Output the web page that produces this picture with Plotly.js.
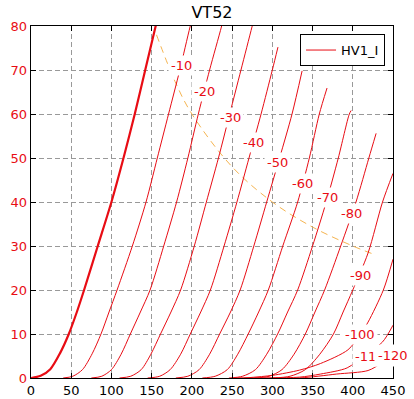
<!DOCTYPE html>
<html>
<head>
<meta charset="utf-8">
<script src="https://cdn.plot.ly/plotly-3.0.1.min.js"></script>
<style>html,body{margin:0;padding:0;background:#fff}#chart{width:414px;height:399px}</style>
</head>
<body>
<div id="chart"></div>
<script>
// Plate voltage (V) / plate current (mA), one pair per grid voltage
const gridLabels = ["0", "-10", "-20", "-30", "-40", "-50", "-60", "-70", "-80", "-90", "-100", "-110", "-120"];

const vp_0   = [0, 12, 24, 36, 47, 57, 66, 83, 100, 115, 129, 142, 155, 165];
const ip_0   = [0, 0.5, 2.0, 5.6, 10, 15, 20, 30, 40, 50, 60, 70, 80, 88];
const vp_10  = [40, 52, 64, 76, 87, 97, 107, 126, 143, 157, 171, 185, 198, 210];
const ip_10  = [0, 0.4, 1.9, 5.5, 10, 15, 20, 30, 40, 50, 60, 70, 80, 88];
const vp_20  = [75, 88, 100, 112, 123.5, 136, 148, 165, 181, 195, 208, 222, 237, 248];
const ip_20  = [0, 0.4, 1.9, 5.4, 10, 15, 20, 30, 40, 50, 60, 70, 80, 88];
const vp_30  = [110, 124, 137, 149, 161, 174, 186, 203, 218, 233, 247, 261, 275, 286];
const ip_30  = [0, 0.4, 1.9, 5.4, 10, 15, 20, 30, 40, 50, 60, 70, 80, 88];
const vp_40  = [145, 160, 173, 186, 198, 211, 223, 240, 256, 271, 286, 300, 307];
const ip_40  = [0, 0.4, 1.9, 5.4, 10, 15, 20, 30, 40, 50, 60, 70, 75.2];
const vp_50  = [180, 195, 209, 222, 234.5, 248, 260, 277, 293, 309, 324.5, 337];
const ip_50  = [0, 0.4, 1.9, 5.4, 10, 15, 20, 30, 40, 50, 60, 69.8];
const vp_60  = [213, 229, 244, 257, 270, 283, 295, 313, 331.5, 346, 358.4, 368];
const ip_60  = [0, 0.4, 1.9, 5.4, 10, 15, 20, 30, 40, 50, 60, 65.9];
const vp_70  = [246, 263, 279, 293, 306.6, 319, 331.5, 350, 367, 382, 395.7, 398];
const ip_70  = [0, 0.4, 1.9, 5.4, 10, 15, 20, 30, 40, 50, 60, 60.8];
const vp_80  = [278, 296, 312, 327, 341, 353, 365, 385, 404, 420, 429];
const ip_80  = [0, 0.4, 1.9, 5.4, 10, 15, 20, 30, 40, 50, 55.6];
const vp_90  = [300, 322, 341, 359, 376, 388, 400, 419, 437, 450];
const ip_90  = [0, 0.4, 1.9, 5.4, 10, 15, 20, 28.4, 40, 46.5];
const vp_100 = [265, 300, 334, 360, 394, 409, 419, 438, 450];
const ip_100 = [0, 0.6, 1.8, 3.3, 6.4, 9.8, 12.7, 20, 27];
const vp_110 = [250, 300, 334, 360, 393, 415, 437, 450];
const ip_110 = [0, 0.05, 0.2, 0.9, 2.3, 5.2, 8.2, 12];
const vp_120 = [250, 334, 380, 419, 435, 450];
const ip_120 = [0, 0.02, 0.9, 1.7, 3.3, 5.2];

// Plate dissipation limit (dashed)
const vp_pmax = [156, 180, 200, 250, 300, 350, 400, 425];
const ip_pmax = [78, 67, 60, 48, 40, 34.3, 30, 28.2];

// Curve label positions (V, mA)
const labelV = [186.5, 216, 247.5, 277, 307, 338, 368, 398, 410, 409, 421, 450];
const labelI = [71.1, 65.2, 59.1, 53.6, 48.9, 44.3, 41.1, 37.3, 23.4, 9.8, 5.0, 5.2];

const xTicks = [0, 50, 100, 150, 200, 250, 300, 350, 400, 450];
const yTicks = [0, 10, 20, 30, 40, 50, 60, 70, 80];

const RED = 'rgb(232,12,20)';
const curves = [
  [vp_0, ip_0], [vp_10, ip_10], [vp_20, ip_20], [vp_30, ip_30], [vp_40, ip_40],
  [vp_50, ip_50], [vp_60, ip_60], [vp_70, ip_70], [vp_80, ip_80], [vp_90, ip_90],
  [vp_100, ip_100], [vp_110, ip_110], [vp_120, ip_120]
];

const traces = [];
traces.push({
  x: vp_pmax, y: ip_pmax, mode: 'lines', type: 'scatter', showlegend: false,
  line: {color: 'rgb(245,180,80)', width: 1, dash: '7px,5px', shape: 'spline'},
  hoverinfo: 'skip'
});
curves.forEach((c, i) => {
  traces.push({
    x: c[0], y: c[1], mode: 'lines', type: 'scatter',
    name: i === 1 ? 'HV1_I' : gridLabels[i],
    showlegend: i === 1,
    line: {color: RED, width: i === 0 ? 2.2 : 1, shape: 'spline', smoothing: 0.8}
  });
});

const annotations = labelV.map((v, k) => ({
  x: v, y: labelI[k], xref: 'x', yref: 'y', text: gridLabels[k + 1],
  showarrow: false, bgcolor: 'white', borderpad: k === labelV.length - 1 ? 3 : 2,
  font: {family: 'DejaVu Sans', size: 13, color: RED}
}));

const layout = {
  width: 414, height: 399,
  margin: {l: 31, r: 21, t: 26, b: 21},
  paper_bgcolor: 'white', plot_bgcolor: 'white',
  font: {family: 'DejaVu Sans', size: 13, color: 'black'},
  title: {text: 'VT52', x: 0.512, xanchor: 'center', y: 0.97, yanchor: 'middle',
          font: {family: 'DejaVu Sans', size: 16, color: 'black'}},
  xaxis: {
    range: [0, 450], tickvals: xTicks, ticktext: xTicks.map(String),
    showgrid: true, gridcolor: '#999', griddash: '5px,3px', gridwidth: 1,
    zeroline: false, showline: true, linecolor: 'black', linewidth: 1.3, mirror: 'ticks',
    ticks: 'inside', ticklen: 5, tickcolor: 'black',
    tickfont: {family: 'DejaVu Sans', size: 13, color: 'black'}
  },
  yaxis: {
    range: [0, 80], tickvals: yTicks, ticktext: yTicks.map(String),
    showgrid: true, gridcolor: '#999', griddash: '5px,3px', gridwidth: 1,
    zeroline: false, showline: true, linecolor: 'black', linewidth: 1.3, mirror: 'ticks',
    ticks: 'inside', ticklen: 5, tickcolor: 'black',
    tickfont: {family: 'DejaVu Sans', size: 13, color: RED}
  },
  legend: {
    x: 0.978, y: 0.977, xanchor: 'right', yanchor: 'top',
    bgcolor: 'white', bordercolor: 'black', borderwidth: 1,
    font: {family: 'DejaVu Sans', size: 13, color: 'black'},
    itemwidth: 30
  },
  annotations: annotations,
  showlegend: true
};

Plotly.newPlot('chart', traces, layout, {displayModeBar: false, staticPlot: true});
</script>
</body>
</html>
